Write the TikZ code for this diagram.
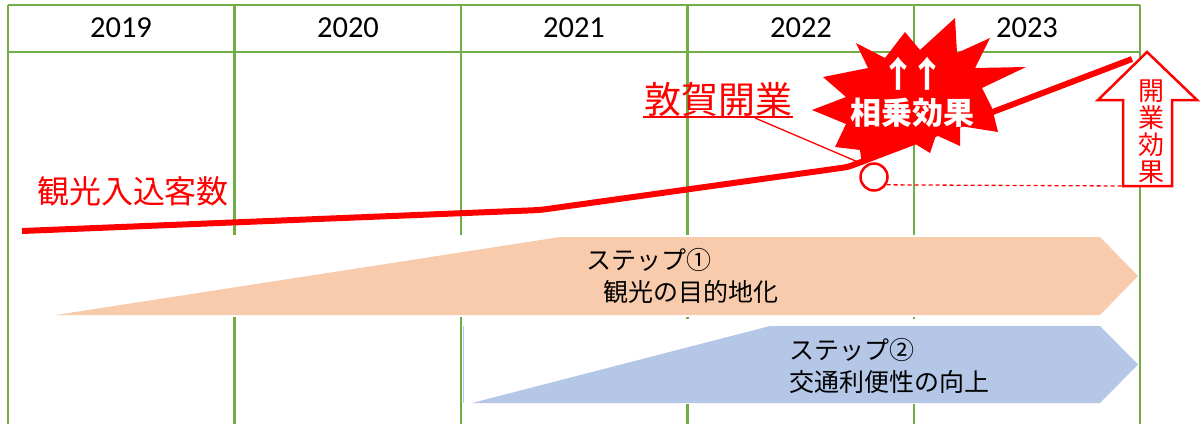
\documentclass[tikz,border=0pt]{standalone}
\usepackage{fontspec}
\setmainfont{Carlito}
\newfontfamily\jp{Noto Sans CJK JP}
\usetikzlibrary{calc}
\definecolor{gridg}{HTML}{70AD47}
\definecolor{peach}{HTML}{F8CBAD}
\definecolor{bluef}{HTML}{B4C7E7}
\definecolor{myred}{HTML}{FF0000}
\tikzset{
  gridline/.style={draw=gridg, line width=2.5pt},
  yeartext/.style={font=\fontsize{30.5}{36}\selectfont, text=black, inner sep=0pt},
  steptext/.style={font=\jp\fontsize{25}{30}\selectfont, text=black, anchor=west, inner sep=0pt},
  redtext/.style={text=myred, inner sep=0pt},
  mainline/.style={draw=myred, line width=6pt, rounded corners=5pt},
  thinred/.style={draw=myred, line width=1.3pt},
  uparrow/.style={text=white, inner sep=0pt, font=\jp\bfseries\fontsize{36}{38}\selectfont}
}
\begin{document}
\begin{tikzpicture}[x=1pt,y=-1pt]
\useasboundingbox[fill=white] (0,0) rectangle (1202,424);
% grid
\foreach \x in {8,234.5,461,687.5,914,1140} \draw[gridline] (\x,5) -- (\x,424);
\draw[gridline] (8,5) -- (1140,5);
\draw[gridline] (8,52) -- (1140,52);
\node[yeartext] (y19) at (121,28) {2019};
\node[yeartext] (y20) at (348,28) {2020};
\node[yeartext] (y21) at (574,28) {2021};
\node[yeartext] (y22) at (801,28) {2022};
\node[yeartext] (y23) at (1027,28) {2023};
% white bands behind step shapes
\fill[white] (20,235) rectangle (1137,317);
\fill[white] (465,319) rectangle (1137,404);
\draw[bluef, line width=1.5pt] (463.5,326) -- (463.5,403);
% step shapes
\fill[peach] (56,315) -- (560,237) -- (1100,237) -- (1138,276) -- (1100,315) -- cycle;
\fill[bluef] (472,403) -- (770,326) -- (1100,326) -- (1138,364.5) -- (1100,403) -- cycle;
\node[steptext] (s1a) at (586,260) {ステップ①};
\node[steptext] (s1b) at (603,292) {観光の目的地化};
\node[steptext] (s2a) at (789,350) {ステップ②};
\node[steptext] (s2b) at (789,382) {交通利便性の向上};
% visitor line
\coordinate (l0) at (22,231);
\coordinate (l1) at (540,210);
\coordinate (l2) at (848,167);
\coordinate (l3) at (1132,59);
\draw[mainline] (l0) -- (l1) -- (l2) -- (l3);
\node[redtext, font=\jp\fontsize{32}{36}\selectfont] (kanko) at (133,191) {観光入込客数};
% circle
\node[circle, draw=myred, line width=2.5pt, fill=white, minimum size=27pt, inner sep=0pt] (c) at (874,177) {};
% starburst
\fill[myred] (955,18) -- (957,53) -- (990,38) -- (975,68) -- (1026,67) -- (982,88)
  -- (992,108) -- (998,132) -- (960,126) -- (960,146) -- (936,135) -- (930,153)
  -- (912,142) -- (888,150) -- (862,165) -- (860,150) -- (835,147) -- (846,124)
  -- (812,110) -- (846,97) -- (823,77) -- (868,68) -- (856,43) -- (885,58)
  -- (905,32) -- (920,50) -- cycle;
\node[uparrow] (upA) at (898,74) {↑};
\node[uparrow] (upB) at (927,74) {↑};
\node[text=white, inner sep=0pt, font=\jp\bfseries\fontsize{31}{34}\selectfont] (sojo) at (912,113) {相乗効果};
% Tsuruga label
\node[redtext, font=\jp\fontsize{37}{40}\selectfont] (tsuruga) at (718,99) {敦賀開業};
\coordinate (ul0) at (643,117);
\coordinate (ul1) at (793,117);
\draw[thinred, line width=1.6pt] (ul0) -- (ul1);
\coordinate (ldA) at (755,118);
\coordinate (ldB) at (858,162);
\draw[thinred] (ldA) -- (ldB);
% opening-effect arrow
\coordinate (atip) at (1147,52);
\coordinate (shaftbl) at (1123,186);
\draw[myred, line width=2.5pt, fill=white, line join=miter]
  (atip) -- (1197,100) -- (1172,100) -- (1172,186) -- (shaftbl) -- (1123,100) -- (1098,100) -- cycle;
\node[redtext, align=center, font=\jp\fontsize{26}{27}\selectfont] (kaigyo) at (1151,132) {開\\業\\効\\果};
\draw[thinred, dash pattern=on 4pt off 3pt] (c.-32) -- (shaftbl);
\end{tikzpicture}
\end{document}
